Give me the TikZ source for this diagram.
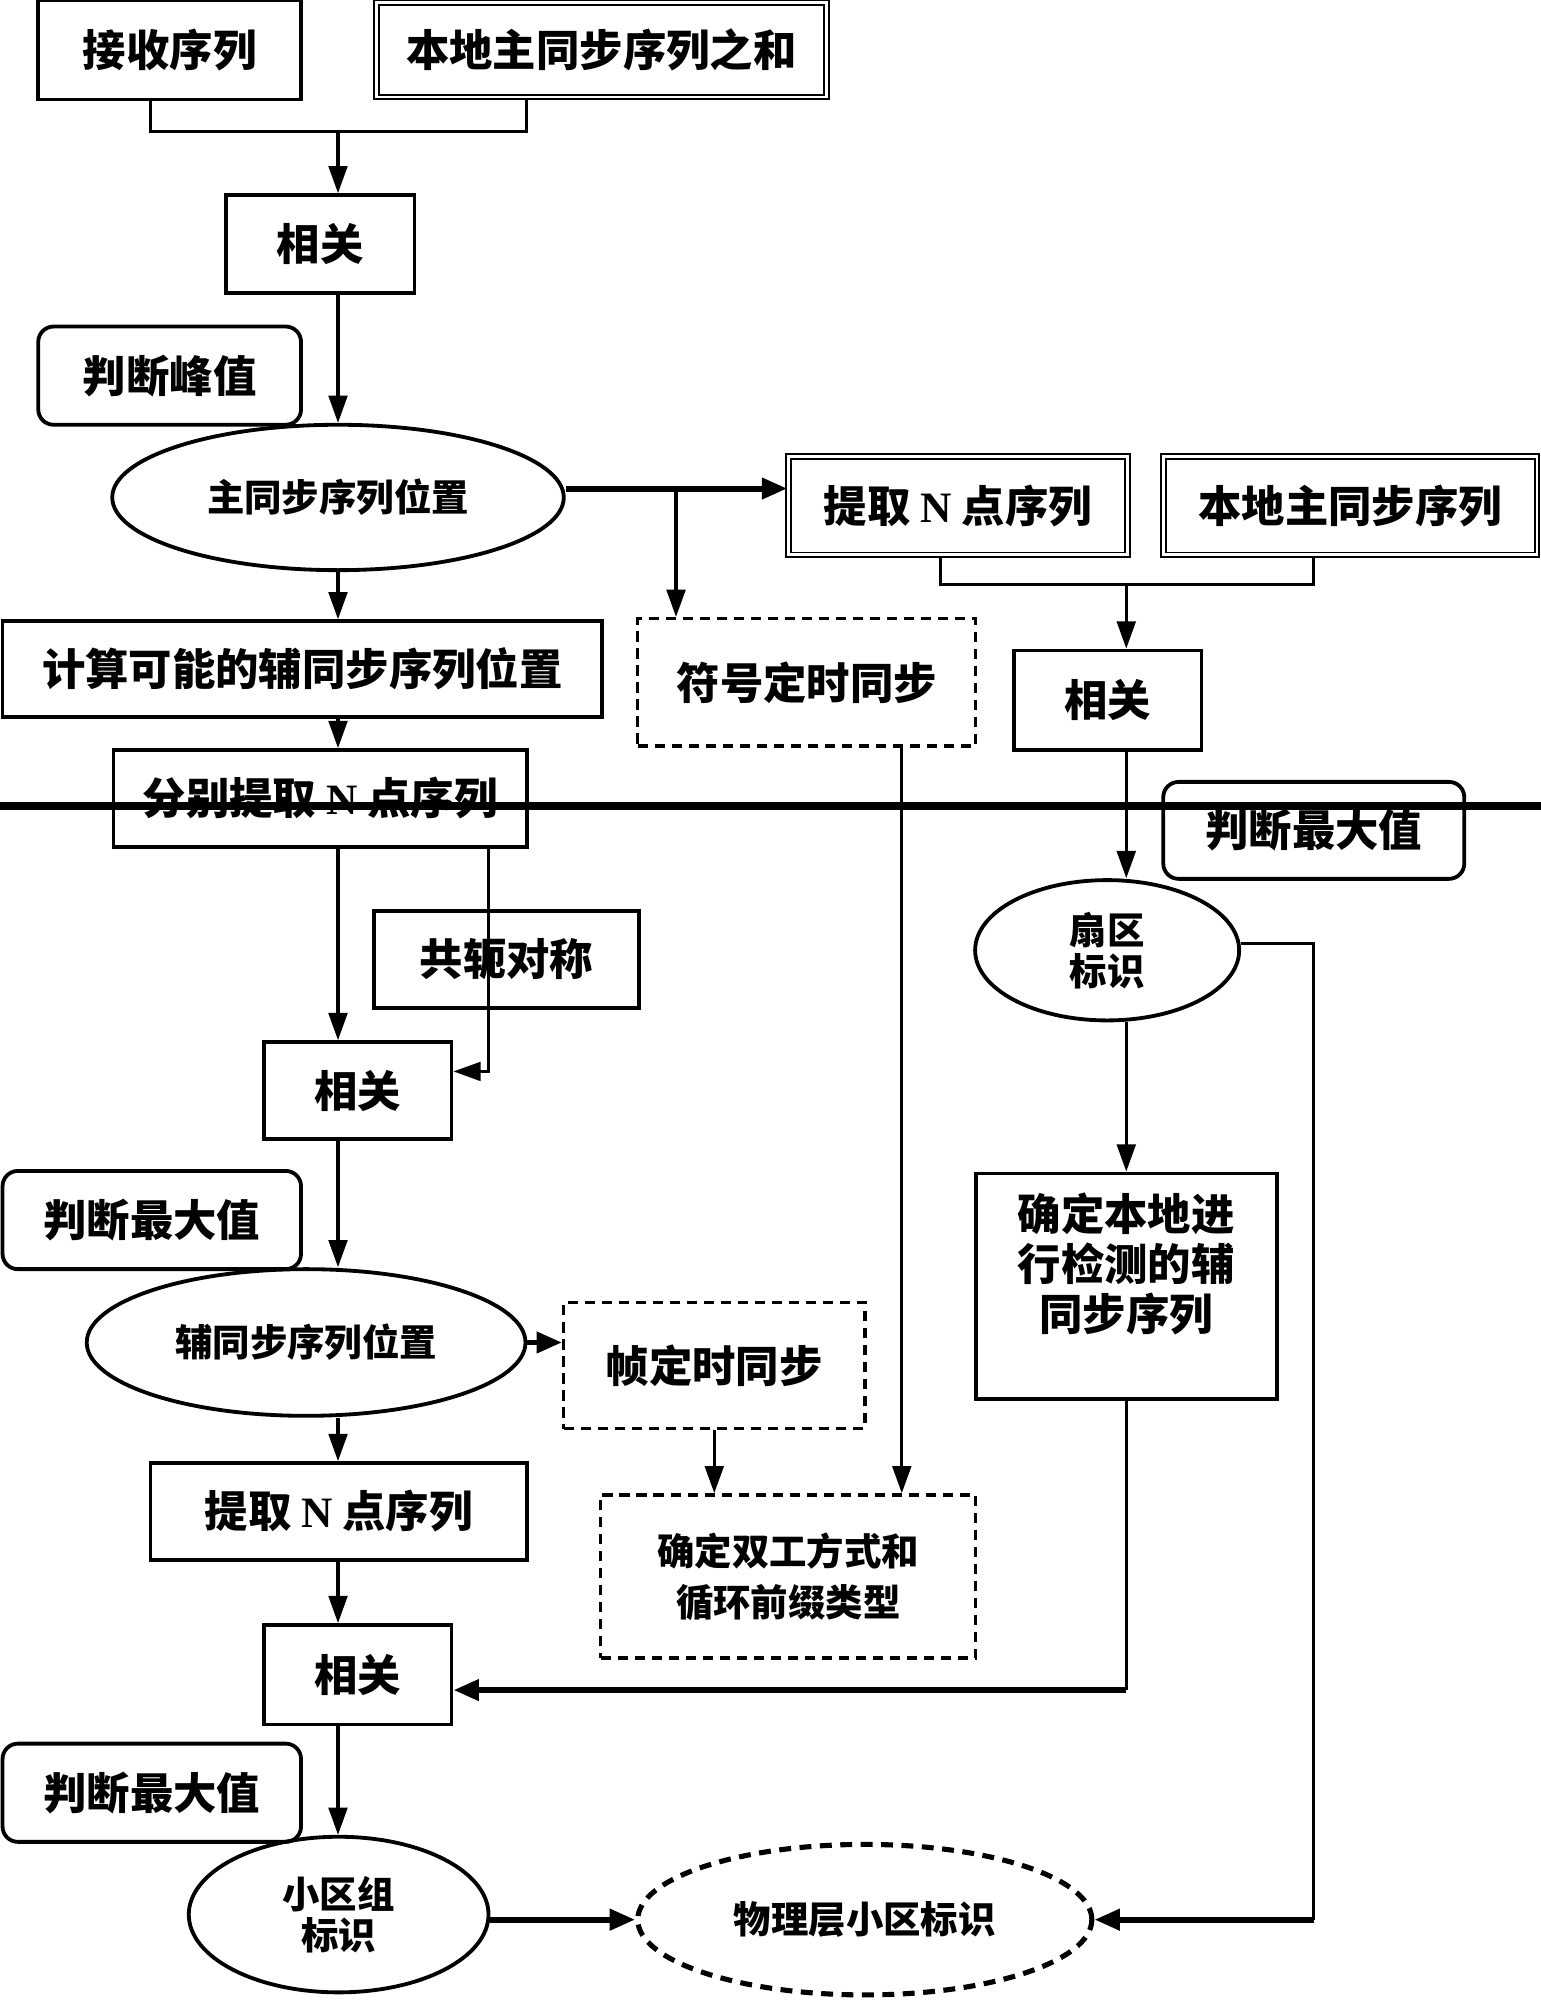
\documentclass[tikz,border=0pt]{standalone}
\usepackage{fontspec}
\newfontfamily\cjk{Noto Sans CJK SC}
\newfontfamily\latn{Liberation Serif}
\usetikzlibrary{shapes.geometric,arrows.meta}

\tikzset{every picture/.style={line width=0.75pt}}
\tikzset{
  boxtxt/.style={font=\cjk\bfseries\fontsize{25.5pt}{29.5pt}\selectfont, align=center, inner sep=0pt},
  smalltxt/.style={font=\cjk\bfseries\fontsize{22pt}{24pt}\selectfont, align=center, inner sep=0pt},
  plainbox/.style={draw, line width=2.25pt, rectangle, boxtxt},
  dblbox/.style={draw, line width=1.1pt, double, double distance=1.6pt, rectangle, boxtxt},
  dashbox/.style={draw, line width=2pt, dash pattern={on 6pt off 4pt}, rectangle, boxtxt},
  roundbox/.style={draw, line width=2.25pt, rounded corners=9pt, rectangle, boxtxt},
  oval/.style={draw, line width=2.25pt, ellipse, smalltxt},
  link/.style={line width=1.8pt},
  arr/.style={link, -{Triangle[length=16pt,width=11pt]}},
  warr/.style={line width=3.5pt, -{Triangle[length=15pt,width=12pt]}},
}

\begin{document}
\begin{tikzpicture}[x=0.75pt,y=0.75pt,yscale=-1,xscale=1]
	\useasboundingbox (0,0) rectangle (1208,1568);
	
	%Straight Lines: thick rule across the page
	\draw [line width=5pt] (0,632) -- (1208,632) ;
	
	%Shape: Rectangle
	\node [plainbox, minimum width=154.5pt, minimum height=58.5pt] (recv) at (133,39) {接收序列};
	%Shape: Rectangle
	\node [dblbox, minimum width=264.75pt, minimum height=55.5pt] (sum) at (471.5,39) {本地主同步序列之和};
	%Shape: Rectangle
	\node [plainbox, minimum width=111pt, minimum height=57.75pt] (corr1) at (251,191.5) {相关};
	%Shape: Rounded Rect
	\node [roundbox, minimum width=154.5pt, minimum height=57.75pt] (peak) at (133,294.5) {判断峰值};
	%Shape: Ellipse
	\node [oval, minimum width=265.5pt, minimum height=85.5pt] (pss) at (265,390) {主同步序列位置};
	%Shape: Rectangle
	\node [dblbox, minimum width=199.5pt, minimum height=57.75pt] (extN1) at (751,396.5) {提取 {\latn\bfseries N} 点序列};
	%Shape: Rectangle
	\node [dblbox, minimum width=219.75pt, minimum height=57.75pt] (locp) at (1058.5,396.5) {本地主同步序列};
	%Shape: Rectangle
	\node [dashbox, minimum width=198.75pt, minimum height=75pt] (symt) at (632.5,535) {符号定时同步};
	%Shape: Rectangle
	\node [plainbox, minimum width=352.5pt, minimum height=56.25pt] (calc) at (237,524.5) {计算可能的辅同步序列位置};
	%Shape: Rectangle
	\node [plainbox, minimum width=110.25pt, minimum height=58.5pt] (corr2) at (868.5,549) {相关};
	%Shape: Rectangle
	\node [plainbox, minimum width=243pt, minimum height=57pt] (sepN) at (251,626) {分别提取 {\latn\bfseries N} 点序列};
	%Shape: Rectangle
	\node [plainbox, minimum width=156pt, minimum height=57pt] (conj) at (397,752) {共轭对称};
	%Shape: Rounded Rect
	\node [roundbox, minimum width=177pt, minimum height=57pt] (maxA) at (1030,651) {判断最大值};
	%Shape: Ellipse
	\node [oval, minimum width=155.25pt, minimum height=82.5pt] (sector) at (868,745) {扇区\\标识};
	%Shape: Rectangle
	\node [plainbox, minimum width=110.25pt, minimum height=57pt] (corr3) at (280.5,855) {相关};
	%Shape: Rounded Rect
	\node [roundbox, minimum width=175.5pt, minimum height=57.75pt] (maxB) at (119,956.5) {判断最大值};
	%Shape: Rectangle
	\node [plainbox, minimum width=177pt, minimum height=132.75pt] (detsss) at (883,1008.5) {};
	% Text Node
	\node [boxtxt] (detsssText) at (883,991) {确定本地进\\行检测的辅\\同步序列};
	%Shape: Ellipse
	\node [oval, minimum width=258pt, minimum height=86.25pt] (ssp) at (240,1052.5) {辅同步序列位置};
	%Shape: Rectangle
	\node [dashbox, minimum width=177pt, minimum height=74.25pt] (frame) at (560,1070.5) {帧定时同步};
	%Shape: Rectangle
	\node [plainbox, minimum width=221.25pt, minimum height=57pt] (extN2) at (265.5,1185) {提取 {\latn\bfseries N} 点序列};
	%Shape: Rectangle
	\node [dashbox, minimum width=220.5pt, minimum height=96pt, smalltxt, font=\cjk\bfseries\fontsize{22pt}{30pt}\selectfont] (duplex) at (618,1236) {确定双工方式和\\循环前缀类型};
	%Shape: Rectangle
	\node [plainbox, minimum width=110.25pt, minimum height=58.5pt] (corr4) at (280.5,1313) {相关};
	%Shape: Rounded Rect
	\node [roundbox, minimum width=175.5pt, minimum height=57.75pt] (maxC) at (119,1405.5) {判断最大值};
	%Shape: Ellipse
	\node [oval, minimum width=176.25pt, minimum height=91.5pt] (cgid) at (265.5,1501) {小区组\\标识};
	%Shape: Ellipse
	\node [oval, dash pattern={on 7pt off 5pt}, line width=3pt, minimum width=267pt, minimum height=88.5pt] (pci) at (678,1505) {物理层小区标识};
	
	% junctions
	\coordinate (colA) at (265,0);
	\coordinate (colB) at (707,0);
	\coordinate (colC) at (883,0);
	\coordinate (j1) at (265,103);
	\coordinate (j1l) at (118,103);
	\coordinate (j1r) at (413,103);
	\coordinate (j2) at (530,383);
	\coordinate (j3) at (883,458);
	\coordinate (j3l) at (737,458);
	\coordinate (j3r) at (1030,458);
	\coordinate (j4) at (383,840);
	\coordinate (j5) at (883,1325);
	\coordinate (j6) at (1030,740);
	
	%Connectors
	\draw [link] (recv.south -| j1l) -- (j1l) -- (j1r) -- (sum.south -| j1r) ;
	\draw [arr] (j1) -- (corr1.north -| j1) ;
	\draw [arr] (corr1.south -| colA) -- (pss.north) ;
	\draw [warr] (pss.east |- j2) -- (extN1.west |- j2) ;
	\draw [arr] (j2) -- (j2 |- symt.north) ;
	\draw [link] (extN1.south -| j3l) -- (j3l) -- (j3r) -- (locp.south -| j3r) ;
	\draw [arr] (j3) -- (corr2.north -| j3) ;
	\draw [arr] (pss.south) -- (calc.north -| colA) ;
	\draw [arr] (calc.south -| colA) -- (sepN.north -| colA) ;
	\draw [arr] (sepN.south -| colA) -- (corr3.north -| colA) ;
	\draw [arr] (sepN.south -| j4) -- (j4) -- (corr3.east |- j4) ;
	\draw [arr] (corr3.south -| colA) -- (ssp.north -| colA) ;
	\draw [warr] (ssp.east) -- (ssp.east -| frame.west) ;
	\draw [arr] (ssp.south -| colA) -- (extN2.north -| colA) ;
	\draw [arr] (frame.south) -- (duplex.north -| frame.south) ;
	\draw [arr] (symt.south -| colB) -- (duplex.north -| colB) ;
	\draw [arr] (extN2.south -| colA) -- (corr4.north -| colA) ;
	\draw [link] (detsss.south) -- (j5) ;
	\draw [warr] (j5) -- (corr4.east |- j5) ;
	\draw [arr] (corr2.south -| colC) -- (sector.north -| colC) ;
	\draw [arr] (sector.south -| colC) -- (detsss.north) ;
	\draw [link] (sector.east |- j6) -- (j6) -- (j6 |- pci.east) ;
	\draw [warr] (j6 |- pci.east) -- (pci.east) ;
	\draw [arr] (corr4.south -| colA) -- (cgid.north -| colA) ;
	\draw [warr] (cgid.east |- pci.west) -- (pci.west) ;
	
\end{tikzpicture}
\end{document}
